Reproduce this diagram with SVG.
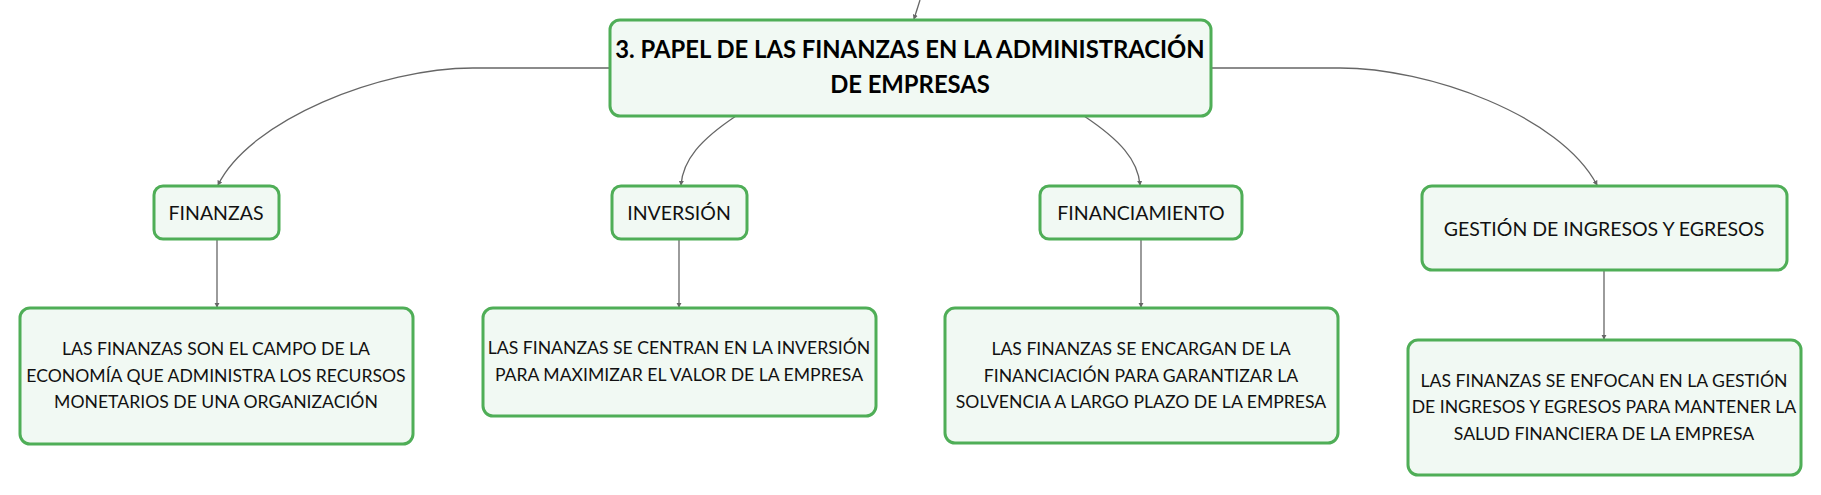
<svg xmlns="http://www.w3.org/2000/svg" width="1821" height="495" viewBox="0 0 1821 495">
<defs>
<style>
.box{fill:#f1f9f3;stroke:#4fae57;stroke-width:3}
.t{font-family:Lato,"Liberation Sans",sans-serif;fill:#111;text-anchor:middle}
.title{font-size:19.5px}
.det{font-size:17.6px}
.main{font-size:23.8px;font-weight:bold;fill:#000}
.con{fill:none;stroke:#666;stroke-width:1.3;marker-end:url(#ah)}
</style>
<marker id="ah" viewBox="0 0 6 6" refX="5" refY="3" markerWidth="4" markerHeight="4" orient="auto" markerUnits="strokeWidth">
<path d="M0,0 L6,3 L0,6 Z" fill="#666"/>
</marker>
</defs>
<rect width="1821" height="495" fill="#ffffff"/>
<g id="connectors">
<path class="con" d="M920,0 L914,19"/>
<path class="con" d="M609,68 H473 C380,68 250,120 218,185"/>
<path class="con" d="M1211,68 H1340 C1428,68 1560,115 1597,185"/>
<path class="con" d="M736,116 C700,140 683,160 681,185"/>
<path class="con" d="M1084,116 C1120,140 1138,160 1140,185"/>
<path class="con" d="M217,239 V307"/>
<path class="con" d="M679,239 V307"/>
<path class="con" d="M1141,239 V307"/>
<path class="con" d="M1604,270 V339"/>
</g>
<g id="central">
<rect class="box" x="610" y="20" width="601" height="96" rx="10"/>
<text class="t main" x="910" y="58">3. PAPEL DE LAS FINANZAS EN LA ADMINISTRACIÓN</text>
<text class="t main" x="910" y="93">DE EMPRESAS</text>
</g>
<g id="finanzas">
<rect class="box" x="154" y="186" width="125" height="53" rx="9"/>
<text class="t title" x="216" y="220">FINANZAS</text>
</g>
<g id="inversion">
<rect class="box" x="612" y="186" width="135" height="53" rx="9"/>
<text class="t title" x="679" y="220">INVERSIÓN</text>
</g>
<g id="financiamiento">
<rect class="box" x="1040" y="186" width="202" height="53" rx="9"/>
<text class="t title" x="1141" y="220">FINANCIAMIENTO</text>
</g>
<g id="gestion">
<rect class="box" x="1422" y="186" width="365" height="84" rx="10"/>
<text class="t title" x="1604" y="236">GESTIÓN DE INGRESOS Y EGRESOS</text>
</g>
<g id="finanzas-detalle">
<rect class="box" x="20" y="308" width="393" height="136" rx="10"/>
<text class="t det" x="216" y="355">LAS FINANZAS SON EL CAMPO DE LA</text>
<text class="t det" x="216" y="382">ECONOMÍA QUE ADMINISTRA LOS RECURSOS</text>
<text class="t det" x="216" y="408">MONETARIOS DE UNA ORGANIZACIÓN</text>
</g>
<g id="inversion-detalle">
<rect class="box" x="483" y="308" width="393" height="108" rx="10"/>
<text class="t det" x="679" y="354">LAS FINANZAS SE CENTRAN EN LA INVERSIÓN</text>
<text class="t det" x="679" y="381">PARA MAXIMIZAR EL VALOR DE LA EMPRESA</text>
</g>
<g id="financiamiento-detalle">
<rect class="box" x="945" y="308" width="393" height="135" rx="10"/>
<text class="t det" x="1141" y="355">LAS FINANZAS SE ENCARGAN DE LA</text>
<text class="t det" x="1141" y="382">FINANCIACIÓN PARA GARANTIZAR LA</text>
<text class="t det" x="1141" y="408">SOLVENCIA A LARGO PLAZO DE LA EMPRESA</text>
</g>
<g id="gestion-detalle">
<rect class="box" x="1408" y="340" width="393" height="135" rx="10"/>
<text class="t det" x="1604" y="387">LAS FINANZAS SE ENFOCAN EN LA GESTIÓN</text>
<text class="t det" x="1604" y="413">DE INGRESOS Y EGRESOS PARA MANTENER LA</text>
<text class="t det" x="1604" y="440">SALUD FINANCIERA DE LA EMPRESA</text>
</g>
</svg>
